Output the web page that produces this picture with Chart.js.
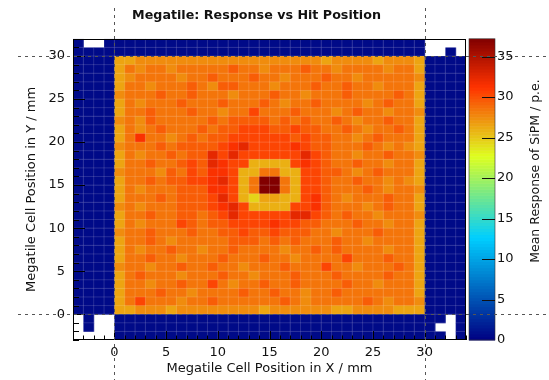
<!DOCTYPE html>
<html>
<head>
<meta charset="utf-8">
<script src="https://cdn.jsdelivr.net/npm/chart.js@4.4.1/dist/chart.umd.min.js"></script>
<style>
  html, body { margin: 0; padding: 0; background: #fff; }
  #wrap { width: 549px; height: 380px; }
</style>
</head>
<body>
<div id="wrap"><canvas id="megatileChart" width="549" height="380"></canvas></div>
<script>
// histogram range (mm) and colour axis range (p.e.)
const xRange = [-4, 34];
const yRange = [-3, 32];
const zRange = [0, 37.2];

const xTicks = [0, 5, 10, 15, 20, 25, 30];
const yTicks = [0, 5, 10, 15, 20, 25, 30];
const zTicks = [0, 5, 10, 15, 20, 25, 30, 35];

const levelValues = {
    '0': 0.6,
    Y: 24.5, y: 26.0, a: 26.5, b: 27.5, c: 28.5,
    d: 29.5, e: 30.5, f: 31.5, g: 32.5, h: 33.5,
    X: 37.2
};

// 1 mm bins, top row (y = 31) first, x from -4 to 33; '.' = empty bin
const binRows = [
    "0..0 00000 00000 00000 00000 00000 00000 ....",
    "0000 00000 00000 00000 00000 00000 00000 ..0.",
    "0000 aabbb bbbbb bbbbb bbbbb abbbb abbba 0000",
    "0000 acbcc bcccc cdccb cccdc cbccc cbcca 0000",
    "0000 abccc cbccd cccdc cbccc dccbc ccccb 0000",
    "0000 accbc ccdcb ddccc bcccd ccdcc bccca 0000",
    "0000 bcccd ccdcc cbccc dccbc ccdcc ccdca 0000",
    "0000 acbcc cdccc dcccd cbccd ccccb cdcca 0000",
    "0000 accdc ccdcc bccec ccdcc cbcdc cbccb 0000",
    "0000 bcbdc ccccd cdddd cdcdc cdcbc cdcca 0000",
    "0000 acbcd cccdc ddeee ddedd ccdcb ccdca 0000",
    "0000 acfcc bcdcd deeee eeded dccbc dccca 0000",
    "0000 bcccd cdddd efgee eefed dcccd cbcba 0000",
    "0000 acbcc dcddg egeee eeege dccbc cdccb 0000",
    "0000 accdc cdedg feeyy yyefe dccdc cbcca 0000",
    "0000 bcccb dcedf feyyc cyyee ddcbc dccca 0000",
    "0000 accdc ddeef geycX Xcyee dccdc cbcba 0000",
    "0000 acbcc cdddf feycX Xcyee dcccd cbccb 0000",
    "0000 acccd cddde geyYa ayyef dcbcc cdcca 0000",
    "0000 bcbcc cddde fgeyy yyeef dcccb cdcca 0000",
    "0000 accdc cddcd egeee eegge dcdcc bcccb 0000",
    "0000 acbcc cedcd deeee feedd cccdc cbcca 0000",
    "0000 bccdc ccdcc ddedd edddc cbccc dccca 0000",
    "0000 accdc bcccc cdddc dcdcc cdccb cccca 0000",
    "0000 acbcc dccbc cdccc cbccd cdccc cbcca 0000",
    "0000 accdc cbccc dcccd ccbcc ccecc cdcca 0000",
    "0000 bccbc cdccd ccbcc cdccc eccbc ccdca 0000",
    "0000 acdcc cbccc dccbc ccdcc cdccc cdcca 0000",
    "0000 accbc cdcce cbccd ccdcc ccdcc bccca 0000",
    "0000 acccd ccbcc ccdcc dccbc cdccc cccca 0000",
    "0000 acecc cbccd ccccc cdcbc ccccd cbccb 0000",
    "0000 aabbb abbbb bbbba bbbbb baabb bbaaa 0000",
    ".0.. 00000 00000 00000 00000 00000 00000 00.0",
    ".0.. 00000 00000 00000 00000 00000 00000 0..0",
    ".... 00000 00000 00000 00000 00000 00000 00.0"
];

const FONT = "'DejaVu Sans', sans-serif";

// ROOT style rainbow palette
const palStops = [0.00, 0.34, 0.61, 0.84, 1.00];
const palRed   = [0.00, 0.00, 0.87, 1.00, 0.51];
const palGreen = [0.00, 0.81, 1.00, 0.20, 0.00];
const palBlue  = [0.51, 1.00, 0.12, 0.00, 0.00];

function paletteColor(v) {
    let f = (v - zRange[0]) / (zRange[1] - zRange[0]);
    f = Math.max(0, Math.min(1, f));
    let i = 0;
    while (i < palStops.length - 2 && f > palStops[i + 1]) i++;
    const t = (f - palStops[i]) / (palStops[i + 1] - palStops[i]);
    const mix = arr => Math.round(255 * (arr[i] + (arr[i + 1] - arr[i]) * t));
    return `rgb(${mix(palRed)}, ${mix(palGreen)}, ${mix(palBlue)})`;
}

// turn the rows into bins
const bins = [];
binRows.forEach((row, r) => {
    const cells = row.replace(/\s/g, '');
    const yLow = yRange[1] - 1 - r;
    for (let k = 0; k < cells.length; k++) {
        const code = cells[k];
        if (code === '.') continue;
        bins.push({ x: xRange[0] + k + 0.5, y: yLow + 0.5, v: levelValues[code] });
    }
});

const heatmapPlugin = {
    id: 'heatmap',
    beforeDatasetsDraw(chart) {
        const { ctx, chartArea, scales } = chart;
        const xs = scales.x, ys = scales.y, zs = scales.z;
        ctx.save();
        ctx.beginPath();
        ctx.rect(chartArea.left, chartArea.top, chartArea.right - chartArea.left, chartArea.bottom - chartArea.top);
        ctx.clip();
        chart.data.datasets[0].data.forEach(b => {
            const x0 = xs.getPixelForValue(b.x - 0.5);
            const x1 = xs.getPixelForValue(b.x + 0.5);
            const y0 = ys.getPixelForValue(b.y - 0.5);
            const y1 = ys.getPixelForValue(b.y + 0.5);
            ctx.fillStyle = paletteColor(b.v);
            ctx.fillRect(x0, y1, x1 - x0 + 0.5, y0 - y1 + 0.5);
        });
        // faint bin borders, as in the rendered original
        ctx.strokeStyle = 'rgba(255, 255, 255, 0.15)';
        ctx.lineWidth = 1;
        ctx.beginPath();
        for (let v = xRange[0] + 1; v < xRange[1]; v++) {
            const p = xs.getPixelForValue(v);
            ctx.moveTo(p, chartArea.top);
            ctx.lineTo(p, chartArea.bottom);
        }
        for (let v = yRange[0] + 1; v < yRange[1]; v++) {
            const p = ys.getPixelForValue(v);
            ctx.moveTo(chartArea.left, p);
            ctx.lineTo(chartArea.right, p);
        }
        ctx.stroke();
        ctx.restore();

        // colour bar
        ctx.save();
        const barLeft = chartArea.right + 3;
        const barWidth = 26;
        const nBands = 100;
        for (let i = 0; i < nBands; i++) {
            const v0 = zRange[0] + (zRange[1] - zRange[0]) * i / nBands;
            const v1 = zRange[0] + (zRange[1] - zRange[0]) * (i + 1) / nBands;
            const p0 = zs.getPixelForValue(v0);
            const p1 = zs.getPixelForValue(v1);
            ctx.fillStyle = paletteColor((v0 + v1) / 2);
            ctx.fillRect(barLeft, p1, barWidth, p0 - p1 + 0.5);
        }
        ctx.strokeStyle = '#333';
        ctx.lineWidth = 0.6;
        ctx.strokeRect(barLeft, zs.getPixelForValue(zRange[1]), barWidth,
            zs.getPixelForValue(zRange[0]) - zs.getPixelForValue(zRange[1]));
        ctx.strokeStyle = '#111';
        ctx.lineWidth = 1;
        ctx.beginPath();
        zTicks.forEach(t => {
            if (t <= zRange[0]) return;
            const p = Math.round(zs.getPixelForValue(t)) + 0.5;
            ctx.moveTo(barLeft + barWidth - 13, p);
            ctx.lineTo(barLeft + barWidth, p);
        });
        ctx.stroke();
        ctx.restore();
    },
    afterDraw(chart) {
        const { ctx, chartArea, scales } = chart;
        const xs = scales.x, ys = scales.y;
        const { left, right, top, bottom } = chartArea;
        ctx.save();

        // frame
        ctx.strokeStyle = '#000';
        ctx.lineWidth = 1;
        ctx.strokeRect(Math.round(left) + 0.5, Math.round(top) + 0.5,
            Math.round(right - left) - 1, Math.round(bottom - top) - 1);

        // ROOT style inward ticks
        ctx.beginPath();
        for (let v = xRange[0]; v <= xRange[1]; v++) {
            const p = Math.round(xs.getPixelForValue(v)) + 0.5;
            const len = xTicks.includes(v) ? 9 : 4.5;
            ctx.moveTo(p, bottom);
            ctx.lineTo(p, bottom - len);
        }
        for (let v = yRange[0]; v <= yRange[1]; v++) {
            const p = Math.round(ys.getPixelForValue(v)) + 0.5;
            const len = yTicks.includes(v) ? 12 : 6;
            ctx.moveTo(left, p);
            ctx.lineTo(left + len, p);
        }
        ctx.stroke();

        // dashed guide lines at the tile edges
        ctx.strokeStyle = '#555';
        ctx.setLineDash([3, 4]);
        ctx.beginPath();
        [0, 30].forEach(v => {
            const px = Math.round(xs.getPixelForValue(v)) + 0.5;
            ctx.moveTo(px, 8);
            ctx.lineTo(px, chart.height);
            const py = Math.round(ys.getPixelForValue(v)) + 0.5;
            ctx.moveTo(18, py);
            ctx.lineTo(chart.width, py);
        });
        ctx.stroke();
        ctx.setLineDash([]);

        // titles
        ctx.fillStyle = '#111';
        ctx.textAlign = 'center';
        ctx.textBaseline = 'middle';
        ctx.font = `bold 12.7px ${FONT}`;
        ctx.fillText('Megatile: Response vs Hit Position', 256.5, 16);

        ctx.font = `12.5px ${FONT}`;
        ctx.translate(536, 171);
        ctx.rotate(-Math.PI / 2);
        ctx.fillText('Mean Response of SiPM / p.e.', 0, 0);
        ctx.restore();
    }
};

const tickFont = { family: FONT, size: 13 };
const titleFont = { family: FONT, size: 13 };

new Chart(document.getElementById('megatileChart'), {
    type: 'scatter',
    data: {
        datasets: [{
            label: 'Mean response',
            data: bins,
            pointRadius: 0,
            showLine: false
        }]
    },
    options: {
        responsive: false,
        animation: false,
        events: [],
        layout: { padding: { top: 35, left: 0, right: 0, bottom: 0 } },
        plugins: {
            legend: { display: false },
            tooltip: { enabled: false },
            title: { display: false }
        },
        scales: {
            x: {
                type: 'linear',
                position: 'bottom',
                min: xRange[0],
                max: xRange[1],
                grid: { display: false, drawTicks: false },
                border: { display: false },
                afterFit: s => { s.height = 40; },
                afterBuildTicks: s => { s.ticks = xTicks.map(v => ({ value: v })); },
                ticks: { padding: 5, color: '#111', font: tickFont, maxRotation: 0, autoSkip: false },
                title: {
                    display: true,
                    text: 'Megatile Cell Position in X / mm',
                    color: '#111',
                    font: titleFont,
                    padding: { top: 0, bottom: 4 }
                }
            },
            y: {
                type: 'linear',
                position: 'left',
                min: yRange[0],
                max: yRange[1],
                grid: { display: false, drawTicks: false },
                border: { display: false },
                afterFit: s => { s.width = 73; },
                afterBuildTicks: s => { s.ticks = yTicks.map(v => ({ value: v })); },
                ticks: { padding: 8, color: '#111', font: tickFont, autoSkip: false },
                title: {
                    display: true,
                    text: 'Megatile Cell Position in Y / mm',
                    color: '#111',
                    font: titleFont,
                    padding: { top: 24, bottom: 0 }
                }
            },
            z: {
                type: 'linear',
                axis: 'y',
                position: 'right',
                min: zRange[0],
                max: zRange[1],
                grid: { display: false, drawTicks: false },
                border: { display: false },
                afterFit: s => { s.width = 83; },
                afterBuildTicks: s => { s.ticks = zTicks.map(v => ({ value: v })); },
                ticks: { padding: 31, color: '#111', font: tickFont, autoSkip: false }
            }
        }
    },
    plugins: [heatmapPlugin]
});
</script>
</body>
</html>
